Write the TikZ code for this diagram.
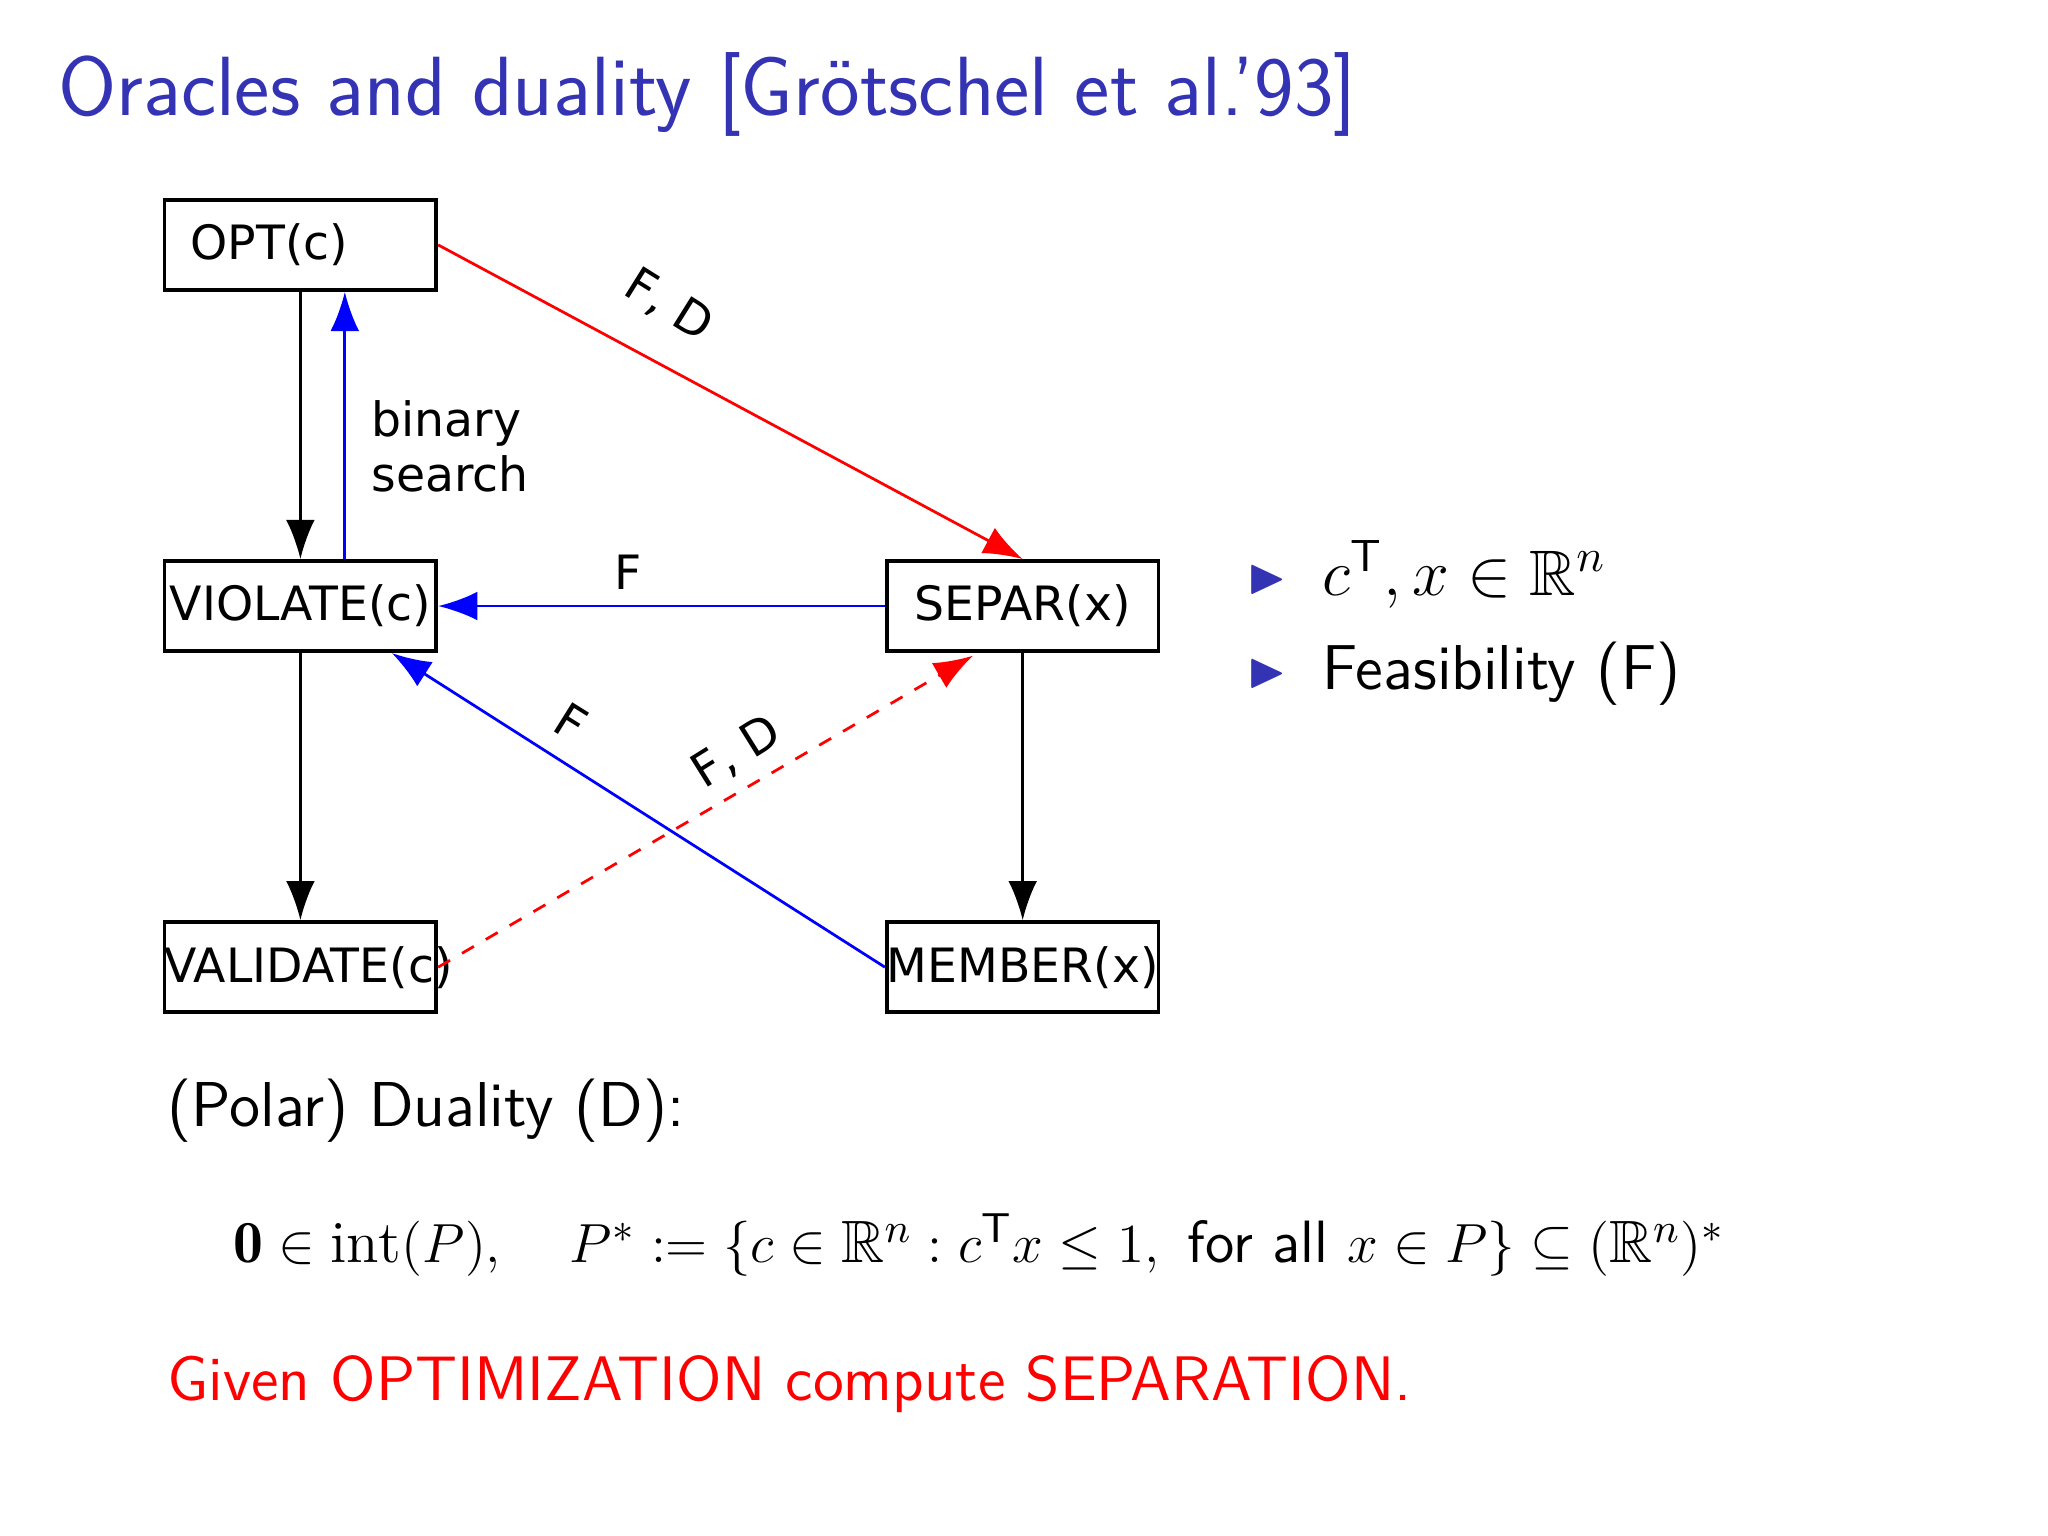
\documentclass[tikz,border=0pt]{standalone}
\usepackage{amsmath,amssymb}
\usepackage{fontspec}
\newfontfamily\dv{DejaVu Sans}
\usetikzlibrary{arrows.meta}
\definecolor{ttl}{RGB}{51,51,179}
\tikzset{
 box/.style={draw,line width=0.8pt,text width=2.08cm,align=center,minimum height=0.69cm,inner sep=0pt,font=\dv\fontsize{10.3}{12}\selectfont},
 arr/.style={line width=0.6pt,-{Latex[length=0.3cm,width=0.22cm]}},
 lab/.style={font=\dv\fontsize{10.3}{12}\selectfont},
}
\begin{document}
\begin{tikzpicture}[x=0.01cm,y=-0.01cm]
\useasboundingbox (0,0) rectangle (1568,1176);
\node[anchor=west,text=ttl,font=\sffamily\fontsize{18.3}{22}\selectfont] (title) at (32,72) {Oracles and duality [Grötschel et al.'93]};
\node[box] (opt) at (230,187.5) {\hspace*{0.2cm}OPT(c)\hfill\null};
\node[box] (vio) at (230,464) {VIOLATE(c)};
\node[box] (val) at (230,740.5) {VALIDATE(c)};
\node[box] (sep) at (783,464) {SEPAR(x)};
\node[box] (mem) at (783,740.5) {MEMBER(x)};
\draw[arr] (opt.south) -- (vio.north);
\draw[arr,blue] ([xshift=0.34cm]vio.north) -- ([xshift=0.34cm]opt.south);
\draw[arr] (vio.south) -- (val.north);
\draw[arr] (sep.south) -- (mem.north);
\draw[arr,red] (opt.east) -- (sep.north);
\draw[arr,blue] (sep.west) -- (vio.east);
\draw[arr,blue] (mem.west) -- (300,500);
\draw[arr,red,dashed] (val.east) -- (745,502);
\node[lab,rotate=-32] (l1) at (512,234) {F, D};
\node[lab,align=left,anchor=north west] (l2) at (272,294) {binary\\search};
\node[lab] (l3) at (481,438) {F};
\node[lab,rotate=-32] (l4) at (437,553) {F};
\node[lab,rotate=32] (l5) at (564,576) {F, D};
\node[text=ttl,font=\fontsize{11}{11}\selectfont] (b1) at (970,444) {$\blacktriangleright$};
\node[text=ttl,font=\fontsize{11}{11}\selectfont] (b2) at (970,516) {$\blacktriangleright$};
\node[anchor=west,font=\fontsize{14}{17}\selectfont] (t1) at (1000,440) {$c^{\mathsf T}, x\in\mathbb R^n$};
\node[anchor=west,font=\sffamily\fontsize{13.8}{17}\selectfont] (t2) at (1000,516) {Feasibility (F)};
\node[anchor=west,font=\sffamily\fontsize{13.8}{17}\selectfont] (t3) at (116,850) {(Polar) Duality (D):};
\node[anchor=west,font=\fontsize{13}{16}\selectfont] (t4) at (166,953) {$\mathbf 0\in\operatorname{int}(P),\quad P^*:=\{c\in\mathbb R^n : c^{\mathsf T}x\le 1,\ \text{\sffamily for all } x\in P\}\subseteq(\mathbb R^n)^*$};
\node[anchor=west,text=red,font=\sffamily\fontsize{13.7}{17}\selectfont] (t5) at (116,1060) {Given OPTIMIZATION compute SEPARATION.};
\end{tikzpicture}
\end{document}
